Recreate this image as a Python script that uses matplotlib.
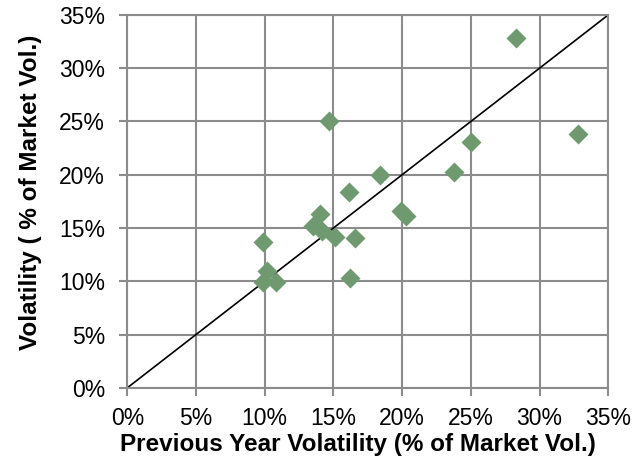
import matplotlib.pyplot as plt
from matplotlib.ticker import PercentFormatter

plt.rcParams['font.family'] = ['Liberation Sans', 'DejaVu Sans']

# previous year volatility vs volatility, both in % of market vol
prev_vol = [28.3, 32.8, 14.7, 25.0, 23.8, 18.4, 16.1, 19.9, 20.3, 14.0,
            13.5, 14.2, 15.1, 16.6, 9.9, 10.2, 9.9, 10.8, 16.2]
curr_vol = [32.8, 23.8, 25.0, 23.1, 20.3, 20.0, 18.4, 16.6, 16.1, 16.3,
            15.2, 14.7, 14.2, 14.1, 13.7, 11.0, 9.9, 9.9, 10.3]
ticks = [0, 5, 10, 15, 20, 25, 30, 35]

fig = plt.figure(figsize=(6.43, 4.65), dpi=100)
ax = fig.add_axes([0.198, 0.166, 0.748, 0.802])

ax.plot([0, 35], [0, 35], color='black', lw=1.2, zorder=2)
ax.plot(prev_vol, curr_vol, 'D', color='#6f9a6f', ms=10.5, mec='none', zorder=3)

ax.set_xlim(0, 35)
ax.set_ylim(0, 35)
ax.set_xticks(ticks)
ax.set_yticks(ticks)
ax.xaxis.set_major_formatter(PercentFormatter(decimals=0))
ax.yaxis.set_major_formatter(PercentFormatter(decimals=0))
ax.grid(True, color='#8c8c8c', lw=1.5, zorder=1)
ax.set_axisbelow(True)
for s in ax.spines.values():
    s.set_color('#8c8c8c')
    s.set_linewidth(1.5)
ax.tick_params(length=6, width=1.5, color='#8c8c8c', labelsize=16.5)
ax.tick_params(axis='x', pad=8)
ax.tick_params(axis='y', pad=10)

ax.set_xlabel('Previous Year Volatility (% of Market Vol.)', fontsize=17.5, fontweight='bold', labelpad=2)
ax.set_ylabel('Volatility ( % of Market Vol.)', fontsize=17.5, fontweight='bold', labelpad=12)
# labels sit a little off-centre in the original
ax.xaxis.label.set_x(0.48)
ax.yaxis.label.set_y(0.525)

fig.savefig('out.png', dpi=100)
